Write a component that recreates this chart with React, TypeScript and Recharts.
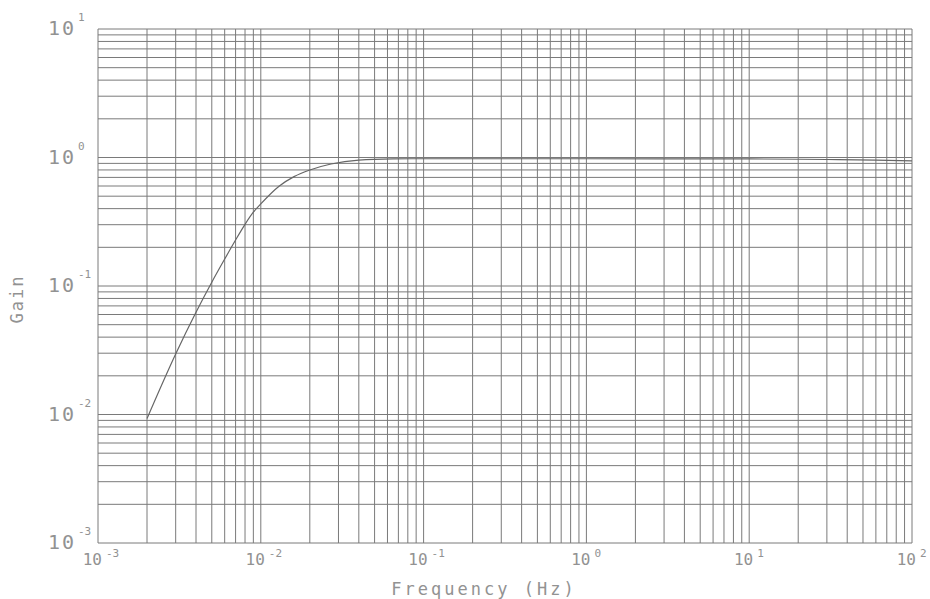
import React from 'react';
import { LineChart, Line, XAxis, YAxis, CartesianGrid } from 'recharts';

const freqs = [0.002, 0.003, 0.004, 0.005, 0.006, 0.007, 0.008, 0.009, 0.01, 0.013, 0.016, 0.02, 0.027, 0.04, 0.065, 0.1, 1, 10, 30, 60, 100];
const gains = [0.0093, 0.0296, 0.0625, 0.107, 0.162, 0.228, 0.302, 0.375, 0.435, 0.6, 0.71, 0.8, 0.89, 0.955, 0.975, 0.978, 0.978, 0.975, 0.965, 0.955, 0.94];

const xDecades = [-3, -2, -1, 0, 1, 2];
const yDecades = [-3, -2, -1, 0, 1];
const xTitle = 'Frequency (Hz)';
const yTitle = 'Gain';

const data = freqs.map((f, i) => ({ f, gain: gains[i] }));

const minorTicks = (decades: number[]) => {
  const out: number[] = [];
  decades.forEach((d, i) => {
    const base = Math.pow(10, d);
    if (i === decades.length - 1) {
      out.push(base);
    } else {
      for (let m = 1; m <= 9; m++) out.push(parseFloat((m * base).toPrecision(6)));
    }
  });
  return out;
};

const xTicks = minorTicks(xDecades);
const yTicks = minorTicks(yDecades);

const FONT = '"DejaVu Sans Mono", monospace';
const TEXT = '#929292';

const isDecade = (v: number) => {
  const l = Math.log10(v);
  return Math.abs(l - Math.round(l)) < 1e-6;
};

const XTick = (props: any) => {
  const { x, y, payload } = props;
  const v = payload.value;
  if (!isDecade(v)) return null;
  const e = Math.round(Math.log10(v));
  return (
    <g>
      <text x={x + 4} y={y + 22} textAnchor="end" fontFamily={FONT} fontSize={16} fill={TEXT}>10</text>
      <text x={x + 8} y={y + 14} textAnchor="start" fontFamily={FONT} fontSize={11} fill={TEXT}>{String(e)}</text>
    </g>
  );
};

const YTick = (props: any) => {
  const { x, y, payload } = props;
  const v = payload.value;
  if (!isDecade(v)) return null;
  const e = Math.round(Math.log10(v));
  return (
    <g>
      <text x={x - 22} y={y + 6} textAnchor="end" fontFamily={FONT} fontSize={20} letterSpacing={2} fill={TEXT}>10</text>
      <text x={x - 20} y={y - 8} textAnchor="start" fontFamily={FONT} fontSize={11} fill={TEXT}>{String(e)}</text>
    </g>
  );
};

const XTitle = (props: any) => {
  const vb = props.viewBox;
  return (
    <text x={vb.x + vb.width / 2 - 21} y={vb.y + 52} textAnchor="middle" fontFamily={FONT} fontSize={17} letterSpacing={3} fill={TEXT}>{xTitle}</text>
  );
};

const YTitle = (props: any) => {
  const vb = props.viewBox;
  const cx = 17;
  const cy = vb.y + vb.height / 2 + 13;
  return (
    <text x={cx} y={cy} transform={`rotate(-90 ${cx} ${cy})`} textAnchor="middle" dominantBaseline="central" fontFamily={FONT} fontSize={17} letterSpacing={2} fill={TEXT}>{yTitle}</text>
  );
};

export default function App() {
  return (
    <div style={{ position: 'absolute', left: 0, top: 0, width: 930, height: 599 }}>
      <LineChart width={930} height={599} data={data} margin={{ top: 29, right: 18, left: 0, bottom: 0 }}>
        <CartesianGrid stroke="#7a7a7a" strokeWidth={1} />
        <XAxis
          dataKey="f"
          type="number"
          scale="log"
          domain={[0.001, 100]}
          ticks={xTicks}
          allowDataOverflow
          interval={0}
          tickLine={false}
          axisLine={false}
          tickSize={0}
          tickMargin={0}
          height={56}
          tick={<XTick />}
          label={<XTitle />}
        />
        <YAxis
          type="number"
          scale="log"
          domain={[0.001, 10]}
          ticks={yTicks}
          allowDataOverflow
          interval={0}
          tickLine={false}
          axisLine={false}
          tickSize={0}
          tickMargin={0}
          width={98}
          tick={<YTick />}
          label={<YTitle />}
        />
        <Line dataKey="gain" type="monotone" dot={false} stroke="#666" strokeWidth={1.2} isAnimationActive={false} />
      </LineChart>
    </div>
  );
}
